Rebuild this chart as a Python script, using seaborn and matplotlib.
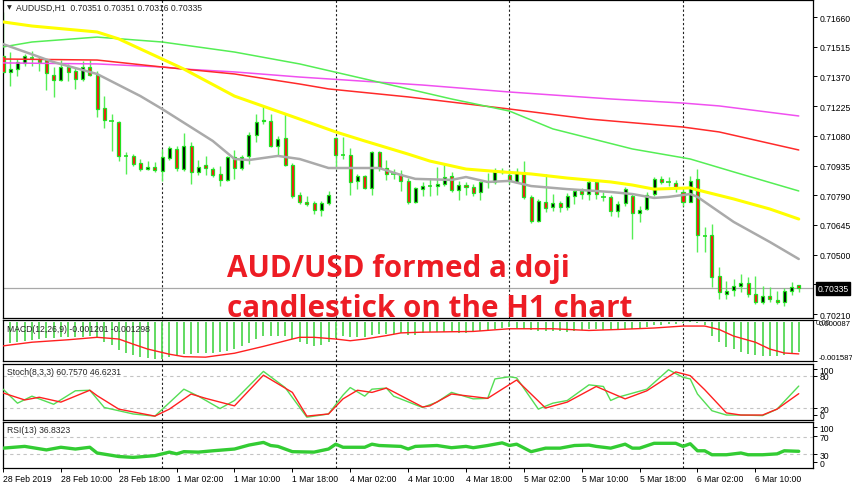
import matplotlib
matplotlib.use("Agg")
import matplotlib.pyplot as plt
import seaborn as sns

# ── Price data: AUDUSD H1, 28 Feb 02:00 -> 6 Mar 16:00 (111 bars) ─────────────
opens = [
    0.71470, 0.71392, 0.71406, 0.71436, 0.71460, 0.71455, 0.71450, 0.71377, 0.71353, 0.71416,
    0.71396, 0.71357, 0.71416, 0.71377, 0.71216, 0.71153, 0.71148, 0.70982, 0.70982, 0.70948,
    0.70918, 0.70928, 0.70909, 0.70972, 0.71016, 0.70918, 0.71030, 0.70904, 0.70938, 0.70918,
    0.70894, 0.70865, 0.70977, 0.70923, 0.70982, 0.71084, 0.71153, 0.71153, 0.71030, 0.71070,
    0.70938, 0.70791, 0.70757, 0.70752, 0.70718, 0.70752, 0.71070, 0.70987, 0.70987, 0.70860,
    0.70884, 0.70826, 0.71001, 0.70923, 0.70894, 0.70894, 0.70860, 0.70757, 0.70820, 0.70835,
    0.70835, 0.70845, 0.70884, 0.70816, 0.70840, 0.70830, 0.70806, 0.70855, 0.70855, 0.70904,
    0.70889, 0.70855, 0.70894, 0.70782, 0.70665, 0.70757, 0.70733, 0.70752, 0.70733, 0.70786,
    0.70811, 0.70796, 0.70855, 0.70782, 0.70782, 0.70713, 0.70752, 0.70786, 0.70704, 0.70723,
    0.70796, 0.70870, 0.70855, 0.70850, 0.70806, 0.70757, 0.70870, 0.70591, 0.70596, 0.70396,
    0.70308, 0.70328, 0.70347, 0.70362, 0.70308, 0.70269, 0.70299, 0.70279, 0.70269, 0.70323,
    0.70351,
]
highs = [
    0.71684, 0.71489, 0.71455, 0.71479, 0.71494, 0.71465, 0.71455, 0.71416, 0.71450, 0.71431,
    0.71416, 0.71445, 0.71450, 0.71396, 0.71274, 0.71187, 0.71153, 0.71001, 0.70991, 0.70967,
    0.70957, 0.70953, 0.71016, 0.71030, 0.71030, 0.71094, 0.71050, 0.70962, 0.70982, 0.70928,
    0.70933, 0.70982, 0.71011, 0.70987, 0.71099, 0.71187, 0.71226, 0.71187, 0.71079, 0.71187,
    0.70948, 0.70806, 0.70786, 0.70762, 0.70762, 0.70811, 0.71074, 0.71074, 0.71021, 0.70894,
    0.70889, 0.71006, 0.71006, 0.70962, 0.70918, 0.70913, 0.70874, 0.70830, 0.70855, 0.70874,
    0.70928, 0.70943, 0.70904, 0.70860, 0.70855, 0.70845, 0.70860, 0.70899, 0.70923, 0.70923,
    0.70918, 0.70923, 0.70957, 0.70791, 0.70772, 0.70894, 0.70796, 0.70762, 0.70801, 0.70820,
    0.70826, 0.70870, 0.70860, 0.70806, 0.70791, 0.70762, 0.70830, 0.70796, 0.70738, 0.70806,
    0.70879, 0.70884, 0.70879, 0.70865, 0.70820, 0.70884, 0.70918, 0.70635, 0.70650, 0.70440,
    0.70372, 0.70382, 0.70406, 0.70391, 0.70396, 0.70347, 0.70343, 0.70323, 0.70338, 0.70367,
    0.70351,
]
lows = [
    0.71382, 0.71323, 0.71372, 0.71421, 0.71421, 0.71396, 0.71304, 0.71270, 0.71348, 0.71348,
    0.71309, 0.71348, 0.71372, 0.71172, 0.71118, 0.71006, 0.70957, 0.70894, 0.70933, 0.70909,
    0.70913, 0.70904, 0.70860, 0.70962, 0.70909, 0.70909, 0.70845, 0.70889, 0.70889, 0.70879,
    0.70835, 0.70860, 0.70870, 0.70913, 0.70943, 0.71050, 0.71138, 0.71026, 0.70982, 0.70933,
    0.70777, 0.70747, 0.70738, 0.70699, 0.70689, 0.70743, 0.70918, 0.70967, 0.70791, 0.70820,
    0.70820, 0.70791, 0.70909, 0.70865, 0.70870, 0.70811, 0.70747, 0.70752, 0.70786, 0.70786,
    0.70791, 0.70835, 0.70806, 0.70767, 0.70791, 0.70786, 0.70767, 0.70826, 0.70845, 0.70894,
    0.70845, 0.70850, 0.70772, 0.70655, 0.70660, 0.70708, 0.70713, 0.70708, 0.70718, 0.70747,
    0.70772, 0.70767, 0.70772, 0.70762, 0.70689, 0.70684, 0.70738, 0.70576, 0.70660, 0.70718,
    0.70786, 0.70845, 0.70835, 0.70806, 0.70738, 0.70757, 0.70513, 0.70513, 0.70343, 0.70284,
    0.70284, 0.70299, 0.70318, 0.70294, 0.70260, 0.70260, 0.70269, 0.70260, 0.70250, 0.70304,
    0.70316,
]
closes = [
    0.71392, 0.71406, 0.71440, 0.71470, 0.71460, 0.71440, 0.71387, 0.71353, 0.71416, 0.71392,
    0.71357, 0.71416, 0.71377, 0.71211, 0.71157, 0.71153, 0.70982, 0.70982, 0.70943, 0.70918,
    0.70928, 0.70913, 0.70977, 0.71021, 0.70923, 0.71030, 0.70904, 0.70928, 0.70923, 0.70889,
    0.70865, 0.70977, 0.70923, 0.70977, 0.71084, 0.71148, 0.71155, 0.71030, 0.71065, 0.70938,
    0.70786, 0.70757, 0.70747, 0.70718, 0.70752, 0.70791, 0.70987, 0.70987, 0.70855, 0.70884,
    0.70826, 0.71001, 0.70923, 0.70894, 0.70894, 0.70860, 0.70757, 0.70826, 0.70835, 0.70835,
    0.70845, 0.70879, 0.70816, 0.70840, 0.70830, 0.70801, 0.70855, 0.70855, 0.70904, 0.70909,
    0.70860, 0.70904, 0.70782, 0.70665, 0.70762, 0.70728, 0.70752, 0.70733, 0.70786, 0.70811,
    0.70796, 0.70855, 0.70796, 0.70782, 0.70713, 0.70747, 0.70820, 0.70704, 0.70718, 0.70791,
    0.70870, 0.70855, 0.70855, 0.70826, 0.70757, 0.70860, 0.70596, 0.70591, 0.70391, 0.70318,
    0.70323, 0.70347, 0.70362, 0.70308, 0.70269, 0.70299, 0.70284, 0.70269, 0.70323, 0.70343,
    0.70335,
]

# ── Moving averages (read at a few bars each) ──────────────────────────────────
gray_x = [0, 7, 13, 19, 22, 29, 32, 34, 38, 41, 45, 48, 52, 55, 57, 62, 64, 67, 70, 73,
          78, 84, 87, 90, 92, 95, 96, 101, 106, 110]
gray_y = [0.71528, 0.71440, 0.71382, 0.71274, 0.71211, 0.71055, 0.70967, 0.70962, 0.70982,
          0.70967, 0.70923, 0.70923, 0.70923, 0.70889, 0.70870, 0.70865, 0.70879, 0.70855,
          0.70860, 0.70835, 0.70820, 0.70806, 0.70796, 0.70777, 0.70782, 0.70796, 0.70782,
          0.70660, 0.70562, 0.70479]
yellow_x = [0, 4, 13, 16, 22, 25, 32, 41, 46, 50, 56, 59, 64, 69, 73, 78, 84, 87, 90, 95,
            96, 101, 106, 110]
yellow_y = [0.71636, 0.71616, 0.71587, 0.71553, 0.71455, 0.71406, 0.71274, 0.71162, 0.71099,
            0.71055, 0.70991, 0.70957, 0.70918, 0.70904, 0.70894, 0.70874, 0.70855, 0.70840,
            0.70820, 0.70826, 0.70816, 0.70772, 0.70723, 0.70674]
green_x = [0, 4, 13, 22, 32, 41, 56, 62, 70, 76, 87, 95, 101, 110]
green_y = [0.71514, 0.71538, 0.71562, 0.71538, 0.71489, 0.71431, 0.71309, 0.71260, 0.71201,
           0.71114, 0.71016, 0.70967, 0.70904, 0.70811]
red_x = [0, 13, 22, 32, 41, 45, 56, 70, 81, 94, 99, 110]
red_y = [0.71455, 0.71450, 0.71416, 0.71382, 0.71333, 0.71309, 0.71270, 0.71211, 0.71162,
         0.71123, 0.71099, 0.71011]
pink_x = [0, 13, 22, 25, 32, 41, 58, 70, 84, 94, 99, 110]
pink_y = [0.71436, 0.71431, 0.71416, 0.71406, 0.71392, 0.71367, 0.71328, 0.71294, 0.71260,
          0.71240, 0.71226, 0.71177]

# ── MACD(12,26,9) ──────────────────────────────────────────────────────────────
macd_hist = [
    -0.00090, -0.00085, -0.00082, -0.00078, -0.00073, -0.00069, -0.00066, -0.00066, -0.00062, -0.00062,
    -0.00062, -0.00059, -0.00057, -0.00066, -0.00080, -0.00094, -0.00113, -0.00124, -0.00136, -0.00141,
    -0.00147, -0.00152, -0.00149, -0.00141, -0.00136, -0.00131, -0.00131, -0.00128, -0.00127, -0.00124,
    -0.00121, -0.00118, -0.00110, -0.00099, -0.00085, -0.00069, -0.00057, -0.00055, -0.00055, -0.00055,
    -0.00069, -0.00082, -0.00090, -0.00097, -0.00094, -0.00082, -0.00066, -0.00055, -0.00062, -0.00062,
    -0.00062, -0.00052, -0.00050, -0.00048, -0.00048, -0.00046, -0.00052, -0.00052, -0.00044, -0.00041,
    -0.00041, -0.00041, -0.00041, -0.00044, -0.00044, -0.00041, -0.00038, -0.00038, -0.00030, -0.00023,
    -0.00021, -0.00024, -0.00027, -0.00031, -0.00035, -0.00035, -0.00038, -0.00038, -0.00041, -0.00038,
    -0.00034, -0.00030, -0.00030, -0.00031, -0.00034, -0.00030, -0.00027, -0.00027, -0.00024, -0.00021,
    -0.00013, -0.00010, -0.00008, -0.00006, -0.00003, 0.000087, -0.00003, -0.00010, -0.00057, -0.00082,
    -0.00103, -0.00110, -0.00122, -0.00131, -0.00136, -0.00138, -0.00138, -0.00138, -0.00136, -0.00131,
    -0.001201,
]
signal_x = [0, 4, 9, 13, 16, 18, 20, 23, 25, 28, 32, 36, 40, 41, 43, 46, 48, 50, 53, 55,
            58, 65, 70, 76, 81, 85, 90, 94, 97, 99, 101, 104, 106, 108, 110]
signal_y = [-0.00097, -0.00082, -0.00072, -0.00062, -0.00069, -0.00090, -0.00110, -0.00131,
            -0.00141, -0.00143, -0.00127, -0.00099, -0.00069, -0.00062, -0.00062, -0.00069,
            -0.00076, -0.00069, -0.00055, -0.00044, -0.00041, -0.00038, -0.00027, -0.00027,
            -0.00034, -0.00030, -0.00024, -0.00016, -0.00016, -0.00030, -0.00057, -0.00082,
            -0.00110, -0.00126, -0.001298]

# ── Stochastic(8,3,3) ──────────────────────────────────────────────────────────
k_x = [0, 2, 4, 7, 10, 12, 14, 18, 21, 25, 27, 30, 32, 36, 39, 42, 45, 47, 48, 50,
       51, 53, 54, 58, 60, 62, 65, 67, 68, 70, 71, 74, 76, 78, 81, 83, 84, 85, 89, 92,
       94, 95, 96, 98, 100, 102, 105, 107, 110]
k_y = [55, 29, 42, 27, 52, 53, 21, 9, 5, 55, 42, 19, 34, 88, 58, 3, 9, 44, 58, 42,
       55, 57, 42, 21, 31, 49, 37, 38, 74, 78, 76, 18, 29, 34, 63, 60, 34, 40, 55, 91,
       77, 74, 46, 15, 7, 7, 6, 18, 60.757]
d_x = [0, 3, 5, 8, 12, 13, 16, 21, 23, 26, 28, 32, 36, 40, 42, 45, 47, 49, 51, 53,
       58, 59, 62, 67, 71, 75, 78, 82, 86, 89, 93, 95, 97, 100, 102, 105, 107, 110]
d_y = [48, 35, 40, 31, 53, 43, 18, 5, 18, 46, 38, 24, 81, 49, 5, 9, 37, 53, 49, 57,
       22, 24, 46, 38, 72, 20, 31, 60, 37, 52, 87, 80, 54, 11, 7, 7, 18, 46.623]

# ── RSI(13) ────────────────────────────────────────────────────────────────────
rsi_x = [0, 3, 6, 8, 10, 12, 13, 16, 18, 21, 23, 24, 25, 27, 29, 32, 34, 36, 37, 38,
         40, 43, 45, 46, 47, 50, 51, 52, 55, 56, 57, 60, 62, 64, 65, 67, 69, 70, 71, 73,
         75, 77, 79, 81, 82, 84, 86, 87, 88, 90, 93, 94, 95, 96, 97, 98, 100, 102, 103, 105,
         107, 108, 110]
rsi_y = [44, 48, 40, 46, 42, 46, 33, 25, 23, 27, 35, 31, 36, 35, 38, 42, 51, 57, 50, 48,
         36, 35, 42, 53, 46, 46, 53, 50, 48, 42, 48, 50, 45, 48, 45, 50, 56, 50, 53, 36,
         44, 44, 50, 51, 48, 44, 53, 44, 44, 55, 55, 48, 54, 38, 38, 29, 29, 33, 29, 29,
         31, 38, 36.83]

# ── Axis text ──────────────────────────────────────────────────────────────────
time_bars = [0, 8, 16, 24, 32, 40, 48, 56, 64, 72, 80, 88, 96, 104]
time_labels = ["28 Feb 2019", "28 Feb 10:00", "28 Feb 18:00", "1 Mar 02:00", "1 Mar 10:00",
               "1 Mar 18:00", "4 Mar 02:00", "4 Mar 10:00", "4 Mar 18:00", "5 Mar 02:00",
               "5 Mar 10:00", "5 Mar 18:00", "6 Mar 02:00", "6 Mar 10:00"]
day_breaks = [22, 46, 70, 94]
price_ticks = [0.71660, 0.71515, 0.71370, 0.71225, 0.71080, 0.70935, 0.70790,
               0.70645, 0.70500, 0.70355, 0.70210]

# ── Figure ─────────────────────────────────────────────────────────────────────
sns.set_theme(style="white")
plt.rcParams["font.family"] = ["Liberation Sans", "DejaVu Sans"]
FS = 6.2
W, H = 852, 485
fig = plt.figure(figsize=(W / 100, H / 100), dpi=100)
fig.patch.set_facecolor("white")


def panel(top, bottom):
    ax = fig.add_axes([2.5 / W, 1 - bottom / H, (813 - 2.5) / W, (bottom - top) / H])
    ax.set_facecolor("white")
    ax.set_xlim(-0.07, 111.97)
    ax.set_xticks([])
    for s in ax.spines.values():
        s.set_color("#000000")
        s.set_linewidth(0.9)
    ax.yaxis.tick_right()
    ax.tick_params(axis="y", right=True, length=3, width=0.7, pad=1.5,
                   labelsize=FS, colors="black", direction="out")
    for b in day_breaks:
        ax.axvline(b, color="#222222", lw=0.8, ls=(0, (2, 2)), zorder=0.5)
    return ax


ax_p = panel(1, 319)
ax_m = panel(321, 362)
ax_s = panel(365, 421)
ax_r = panel(423, 469)

# price panel
ax_p.set_ylim(0.70191, 0.71743)
ax_p.set_yticks(price_ticks)
ax_p.set_yticklabels([f"{t:.5f}" for t in price_ticks])
ax_p.axhline(closes[-1], color="#a8a8a8", lw=0.9, zorder=1)

for i, (o, h, l, c) in enumerate(zip(opens, highs, lows, closes)):
    ax_p.vlines(i, l, h, color="#55ee55", lw=1.0, zorder=2)
    if o == c:
        ax_p.hlines(o, i - 0.3, i + 0.3, color="#22dd22", lw=1.2, zorder=3)
    else:
        face = "black" if c > o else "#ff1010"
        ax_p.bar(i, abs(c - o), bottom=min(o, c), width=0.42, color=face,
                 edgecolor="#22e022", linewidth=0.9, zorder=3)

for xs, ys, col, lw in [(pink_x, pink_y, "#f050f0", 1.1),
                        (red_x, red_y, "#ff2a2a", 1.1),
                        (green_x, green_y, "#55ee55", 1.1),
                        (yellow_x, yellow_y, "#ffff00", 2.2),
                        (gray_x, gray_y, "#aaaaaa", 1.8)]:
    sns.lineplot(x=xs, y=ys, ax=ax_p, color=col, linewidth=lw, legend=False, zorder=4)

ax_p.annotate(f"{closes[-1]:.5f}", xy=(1, closes[-1]), xycoords=("axes fraction", "data"),
              xytext=(3, 0), textcoords="offset points", ha="left", va="center",
              color="white", fontsize=FS, annotation_clip=False, zorder=10,
              bbox=dict(boxstyle="square,pad=0.18", fc="black", ec="black"))

# MACD panel
ax_m.set_ylim(-0.001587, 0.000087)
ax_m.vlines(range(len(macd_hist)), 0, macd_hist, color="#55d855", lw=1.3, zorder=2)
sns.lineplot(x=signal_x, y=signal_y, ax=ax_m, color="#ff2020", linewidth=1.0,
             legend=False, zorder=3)
ax_m.set_yticks([0.000087, -0.001587])
ax_m.set_yticklabels(["0.000087", "-0.001587"])
ax_m.tick_params(axis="y", labelsize=5.6, pad=1)
ax_m.get_yticklabels()[0].set_va("top")
ax_m.get_yticklabels()[1].set_va("bottom")
ax_m.text(1.004, 1.02, "0.00", transform=ax_m.transAxes, fontsize=5.6, va="top", ha="left")
ax_m.text(0.005, 0.8, "MACD(12,26,9) -0.001201 -0.001298", transform=ax_m.transAxes,
          fontsize=FS, va="center", ha="left")

# Stochastic panel
ax_s.set_ylim(-2.2, 101.7)
for lvl in (80, 20):
    ax_s.axhline(lvl, color="#c4c4c4", lw=0.8, ls=(0, (3, 3)), zorder=1)
sns.lineplot(x=k_x, y=k_y, ax=ax_s, color="#55dd55", linewidth=1.0, legend=False, zorder=3)
sns.lineplot(x=d_x, y=d_y, ax=ax_s, color="#ff2020", linewidth=1.0, legend=False, zorder=3)
ax_s.set_yticks([92, 80, 20, 8])
ax_s.set_yticklabels(["100", "80", "20", "0"])
ax_s.text(0.005, 0.86, "Stoch(8,3,3) 60.7570 46.6231", transform=ax_s.transAxes,
          fontsize=FS, va="center", ha="left")

# RSI panel
ax_r.set_ylim(-1.1, 103.4)
for lvl in (70, 30):
    ax_r.axhline(lvl, color="#c4c4c4", lw=0.8, ls=(0, (3, 3)), zorder=1)
sns.lineplot(x=rsi_x, y=rsi_y, ax=ax_r, color="#33cc33", linewidth=2.4, legend=False, zorder=3)
ax_r.set_yticks([92, 71, 30, 12])
ax_r.set_yticklabels(["100", "70", "30", "0"])
ax_r.text(0.005, 0.83, "RSI(13) 36.8323", transform=ax_r.transAxes,
          fontsize=FS, va="center", ha="left")
ax_r.set_xticks(time_bars)
ax_r.set_xticklabels(time_labels, ha="left")
ax_r.tick_params(axis="x", bottom=True, length=3, width=0.7, pad=1.5, labelsize=FS,
                 colors="black", direction="out")

for ax in (ax_p, ax_m, ax_s, ax_r):
    ax.set_xlabel("")
    ax.set_ylabel("")

# header and annotation
fig.text(7 / W, 1 - 8 / H, "\u25bc", fontsize=4.5, family="DejaVu Sans", va="center")
fig.text(16 / W, 1 - 8 / H, "AUDUSD,H1  0.70351 0.70351 0.70316 0.70335",
         fontsize=FS, va="center", ha="left")
fig.text(227 / W, 1 - 277 / H, "AUD/USD formed a doji", color="#ed1c24",
         fontsize=21.3, fontweight="bold", family="Open Sans", va="baseline", zorder=20)
fig.text(227 / W, 1 - 317 / H, "candlestick on the H1 chart", color="#ed1c24",
         fontsize=21.3, fontweight="bold", family="Open Sans", va="baseline", zorder=20)

fig.savefig("out.png", dpi=100)
